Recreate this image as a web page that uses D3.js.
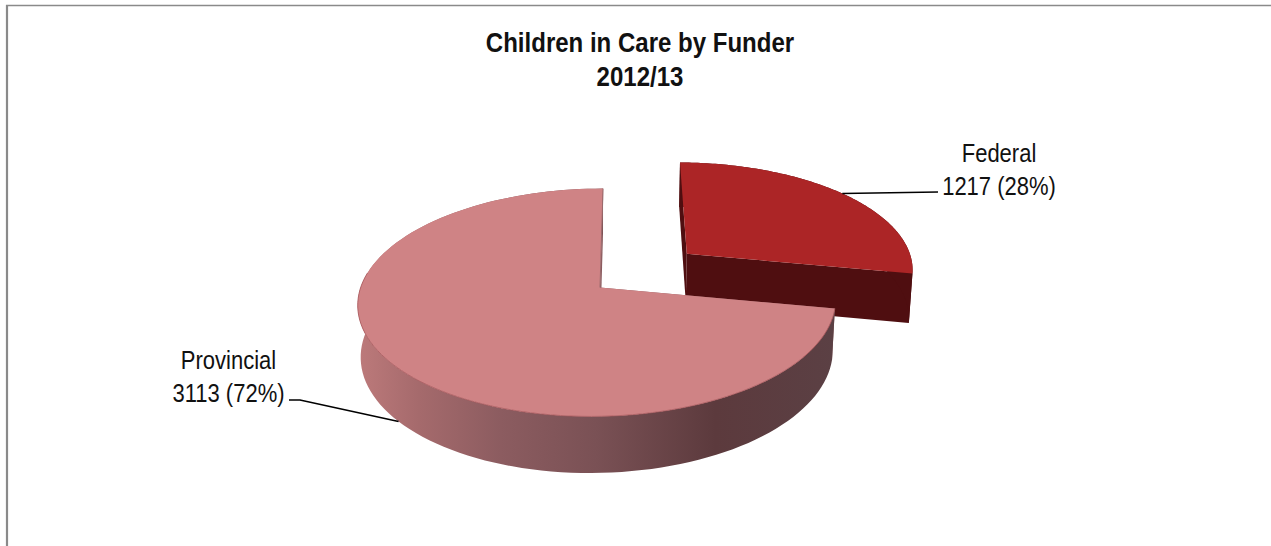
<!DOCTYPE html>
<html>
<head>
<meta charset="utf-8">
<script src="https://cdn.jsdelivr.net/npm/d3@7/dist/d3.min.js"></script>
<style>
  html, body { margin: 0; padding: 0; background: #fff; }
  svg { display: block; }
  text { font-family: "Liberation Sans", Arial, sans-serif; fill: #111; }
</style>
</head>
<body>
<svg id="chart" width="1271" height="546"></svg>
<script>
// Chart content
const titleLines = ["Children in Care by Funder", "2012/13"];
const funders = ["Federal", "Provincial"];
const children = [1217, 3113];
const percents = ["28%", "72%"];

const svg = d3.select("#chart");

// Perspective view of the pie: disc coordinates (x right, y away, z down) to the page
const view = { cx: 600, cy: 287.5, a: 244, b: 82.4, d: 2.5, e: -74.1, g: 0.012, h: 0.1316, depth: 54.8, shrink: 0.012 };
const explode = 0.49;

function project(x, y, z) {
  const w = 1 + view.g * x + view.h * y + view.shrink * z;
  return [
    (view.cx + view.a * x + view.b * y + view.cx * view.shrink * z) / w,
    (view.cy + view.d * x + view.e * y + view.depth * z) / w
  ];
}

const slices = d3.pie().sort(null).startAngle(0).endAngle(2 * Math.PI)(children)
  .map((s, i) => {
    const mid = (s.startAngle + s.endAngle) / 2;
    const off = i === 0 ? explode : 0;
    return { ...s, i, mid, ox: off * Math.sin(mid), oy: off * Math.cos(mid) };
  });

const rim = (s, t, z) => project(s.ox + Math.sin(t), s.oy + Math.cos(t), z);
const hub = (s, z) => project(s.ox, s.oy, z);
const arcAngles = s => d3.range(0, 121).map(k => s.startAngle + (s.endAngle - s.startAngle) * k / 120);

const line = d3.line();
const closed = pts => line(pts) + "Z";

// Shaded outer wall of the larger slice
const defs = svg.append("defs");
const wallShade = defs.append("linearGradient")
  .attr("id", "wallShade").attr("gradientUnits", "userSpaceOnUse")
  .attr("x1", 357).attr("x2", 835).attr("y1", 0).attr("y2", 0);
[[0, "#bd7a7b"], [0.13, "#a56a6c"], [0.3, "#8c5c60"], [0.5, "#7a5155"], [0.75, "#5c3a3d"], [1, "#5b4044"]]
  .forEach(([o, c]) => wallShade.append("stop").attr("offset", o).attr("stop-color", c));

// Frame: top rule and a heavier left rule
svg.append("line").attr("x1", 6).attr("x2", 1271).attr("y1", 5.5).attr("y2", 5.5).attr("stroke", "#8a8a8a").attr("stroke-width", 1.4);
svg.append("line").attr("x1", 7).attr("x2", 7).attr("y1", 5).attr("y2", 546).attr("stroke", "#8a8a8a").attr("stroke-width", 2.2);

const [fed, prov] = slices;
const sideColors = ["#4f0e10", "url(#wallShade)"];
const topColors = ["#ac2526", "#cf8385"];

[fed, prov].forEach(s => {
  const g = svg.append("g").attr("class", "slice");
  const ts = arcAngles(s);
  // cut faces first, then the curved wall, then the top
  [s.startAngle, s.endAngle].forEach(t => {
    g.append("path")
      .attr("d", closed([hub(s, 0), rim(s, t, 0), rim(s, t, 1), hub(s, 1)]))
      .attr("fill", s.i === 0 ? sideColors[0] : "#8a5a5e");
  });
  g.append("path")
    .attr("d", closed(ts.map(t => rim(s, t, 0)).concat(ts.slice().reverse().map(t => rim(s, t, 1)))))
    .attr("fill", sideColors[s.i]);
  g.append("path")
    .attr("d", closed([hub(s, 0)].concat(ts.map(t => rim(s, t, 0)))))
    .attr("fill", topColors[s.i]);
  if (s.i === 1) {
    // thin darker edge where the top meets the front wall
    g.append("path")
      .attr("d", line(ts.filter(t => t < 1.55 * Math.PI).map(t => rim(s, t, 0))))
      .attr("fill", "none").attr("stroke", "#a8585c").attr("stroke-width", 0.8);
    g.append("path")
      .attr("d", line([hub(s, 0), rim(s, s.endAngle, 0)]))
      .attr("fill", "none").attr("stroke", "#9a6a6c").attr("stroke-width", 1);
  }
});

// Narrowed text, as the original typeface sets tall and tight
const setText = (sel, x, y, size, squeeze) => sel
  .attr("transform", (d, i) => `translate(${x(d, i)},${y(d, i)}) scale(${squeeze},1)`)
  .attr("text-anchor", "middle").attr("font-size", size);

// Title
svg.append("g").selectAll("text").data(titleLines).join("text")
  .call(setText, () => 640, (d, i) => 52 + i * 33.5, 27, 0.89)
  .attr("font-weight", "bold")
  .text(d => d);

// Leader lines run from the middle of each slice's rim
const leaderPaths = [
  [rim(fed, fed.mid, 0), [938, 192]],
  [rim(prov, prov.mid, 1), [300, 400], [289, 400]]
];
svg.append("g").selectAll("path").data(leaderPaths).join("path")
  .attr("d", d => line(d)).attr("fill", "none").attr("stroke", "#000").attr("stroke-width", 1.7);

// Data labels
const labelPos = [{ x: 999, y: 162 }, { x: 228.5, y: 369 }];
const labels = svg.append("g").selectAll("g").data(slices).join("g");
labels.append("text")
  .call(setText, d => labelPos[d.i].x, d => labelPos[d.i].y, 25, 0.88)
  .text(d => funders[d.i]);
labels.append("text")
  .call(setText, d => labelPos[d.i].x, d => labelPos[d.i].y + 33, 25, 0.88)
  .text(d => `${d.value} (${percents[d.i]})`);
</script>
</body>
</html>
